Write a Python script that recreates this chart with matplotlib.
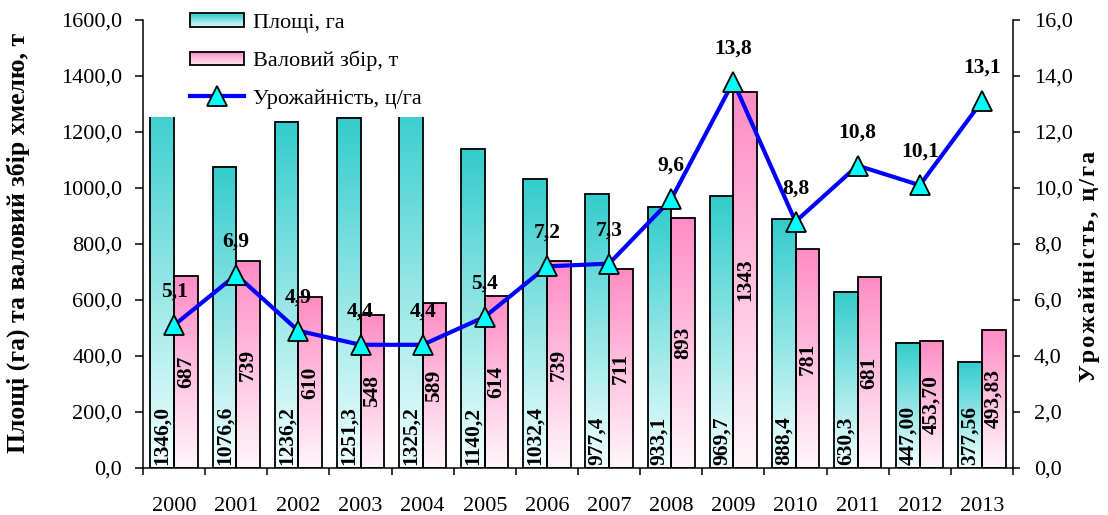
import numpy as np
import matplotlib
matplotlib.use('Agg')
import matplotlib.pyplot as plt
from matplotlib.patches import Rectangle, Patch
from matplotlib.lines import Line2D
from matplotlib.legend_handler import HandlerBase
from matplotlib.ticker import FuncFormatter, MultipleLocator
from matplotlib.colors import to_rgb

years = ['2000', '2001', '2002', '2003', '2004', '2005', '2006',
         '2007', '2008', '2009', '2010', '2011', '2012', '2013']
area = [1346.0, 1076.6, 1236.2, 1251.3, 1325.2, 1140.2, 1032.4,
        977.4, 933.1, 969.7, 888.4, 630.3, 447.00, 377.56]
harvest = [687, 739, 610, 548, 589, 614, 739, 711, 893, 1343, 781, 681,
           453.70, 493.83]
yield_vals = [5.1, 6.9, 4.9, 4.4, 4.4, 5.4, 7.2, 7.3, 9.6, 13.8, 8.8, 10.8,
              10.1, 13.1]
area_dec = [1] * 12 + [2, 2]
harvest_dec = [0] * 12 + [2, 2]

labels_legend = ['Площі, га', 'Валовий збір, т', 'Урожайність, ц/га']
ylabel_left = 'Площі (га) та валовий збір хмелю, т'
ylabel_right = 'Урожайність, ц/га'

TEAL_TOP, TEAL_BOT = '#33CCCC', '#F2FFFF'
PINK_TOP, PINK_BOT = '#FF8CC4', '#FFF6FA'

plt.rcParams['font.family'] = ['Liberation Serif', 'DejaVu Serif']

W, H = 1108, 515
fig = plt.figure(figsize=(W / 100, H / 100), dpi=100)
L, R = 143 / W, 1013 / W
B, T = (H - 468) / H, (H - 20) / H
ax = fig.add_axes([L, B, R - L, T - B])
ax2 = ax.twinx()

n = len(years)
x = np.arange(n)
bw = 0.38


def comma(v, dec):
    return f"{v:.{dec}f}".replace('.', ',')


def mix(top, bot, t):
    a, b = np.array(to_rgb(top)), np.array(to_rgb(bot))
    return b * (1 - t) + a * t


def grad_bar(axis, x0, h, w, top, bot):
    t = np.linspace(0, 1, 128)[:, None, None]
    img = mix(top, bot, t)
    axis.imshow(img, extent=(x0, x0 + w, 0, h), aspect='auto', origin='lower',
                zorder=1, interpolation='bilinear')
    axis.add_patch(Rectangle((x0, 0), w, h, fill=False, edgecolor='black',
                             lw=1.3, zorder=1.2))


class GradHandler(HandlerBase):
    def __init__(self, top, bot):
        super().__init__()
        self.top, self.bot = top, bot

    def create_artists(self, legend, orig_handle, xdescent, ydescent,
                       width, height, fontsize, trans):
        arts = []
        steps = 12
        h = height * 0.95
        y0 = -ydescent + (height - h) / 2
        for k in range(steps):
            t = 0.15 + 0.85 * k / (steps - 1)
            arts.append(Rectangle((-xdescent, y0 + h * k / steps), width,
                                  h / steps + 0.2,
                                  facecolor=mix(self.top, self.bot, t),
                                  edgecolor='none', transform=trans))
        arts.append(Rectangle((-xdescent, y0), width, h, fill=False,
                              edgecolor='black', lw=1.3, transform=trans))
        return arts


for i in range(n):
    grad_bar(ax, x[i] - bw, area[i], bw, TEAL_TOP, TEAL_BOT)
    grad_bar(ax, x[i], harvest[i], bw, PINK_TOP, PINK_BOT)
    ax.annotate(comma(area[i], area_dec[i]), (x[i] - bw / 2, 0),
                xytext=(0, 2), textcoords='offset points', rotation=90,
                ha='center', va='bottom', fontsize=15.5, fontweight='bold',
                zorder=1.5)
    ax.text(x[i] + bw / 2, harvest[i] / 2, comma(harvest[i], harvest_dec[i]),
            rotation=90, ha='center', va='center', fontsize=15.5,
            fontweight='bold', zorder=1.5)

# white legend background covering bar tops
ax.add_patch(Rectangle((0.003, 0.783), 0.338, 0.3, transform=ax.transAxes,
                       facecolor='white', edgecolor='none', zorder=2))

ax.set_xlim(-0.5, n - 0.5)
ax.set_ylim(0, 1600)
ax.yaxis.set_major_locator(MultipleLocator(200))
ax.yaxis.set_major_formatter(FuncFormatter(lambda v, p: comma(v, 1)))

ax2.plot(x, yield_vals, color='#0000FF', lw=3, marker='^', ms=14,
         mfc='#00FFFF', mec='black', mew=1.3, zorder=3)
for i in range(n):
    ax2.annotate(comma(yield_vals[i], 1), (x[i], yield_vals[i]),
                 xytext=(0, 24), textcoords='offset points', ha='center',
                 va='center', fontsize=15.5, fontweight='bold')
ax2.set_ylim(0, 16)
ax2.yaxis.set_major_locator(MultipleLocator(2))
ax2.yaxis.set_major_formatter(FuncFormatter(lambda v, p: comma(v, 1)))

ax.set_xticks(np.arange(-0.5, n, 1.0))
ax.set_xticklabels([])
ax.set_xticks(x, minor=True)
ax.set_xticklabels(years, minor=True)
ax.tick_params(axis='x', which='major', direction='out', length=5, width=1.1)
ax.tick_params(axis='x', which='minor', length=0, pad=21, labelsize=16)
ax.tick_params(axis='y', direction='out', length=6, width=1.1, pad=9,
               labelsize=16)
ax2.tick_params(axis='y', direction='out', length=5, width=1.1, pad=10,
                labelsize=16)

for a in (ax, ax2):
    a.spines['top'].set_visible(False)
    for s in a.spines.values():
        s.set_linewidth(1.1)
ax.spines['right'].set_visible(False)
ax2.spines['left'].set_visible(False)
ax2.spines['bottom'].set_visible(False)

h_area = Patch(facecolor=TEAL_TOP)
h_harv = Patch(facecolor=PINK_TOP)
h_line = Line2D([], [], color='#0000FF', lw=3, marker='^', ms=14,
                mfc='#00FFFF', mec='black', mew=1.3)
fig.legend([h_area, h_harv, h_line], labels_legend, loc='upper left',
           bbox_to_anchor=(190 / W, 1 - 13 / H), frameon=False, fontsize=16,
           handlelength=2.45, handleheight=0.6, labelspacing=0.8,
           handletextpad=0.4, borderpad=0, borderaxespad=0,
           handler_map={h_area: GradHandler(TEAL_TOP, TEAL_BOT),
                        h_harv: GradHandler(PINK_TOP, PINK_BOT)})

fig.text(18 / W, 1 - 243 / H, ylabel_left, rotation=90, ha='center',
         va='center', fontsize=18.5, fontweight='bold')
fig.text(1090 / W, 1 - 266 / H, '\u200a'.join(ylabel_right), rotation=90,
         ha='center', va='center', fontsize=17.5, fontweight='bold')

fig.savefig('out.png', dpi=100)
